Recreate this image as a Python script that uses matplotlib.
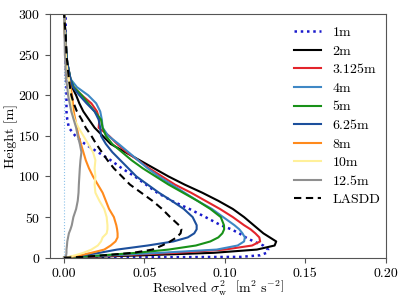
import matplotlib
matplotlib.use("Agg")
import matplotlib.pyplot as plt
from matplotlib.ticker import FormatStrFormatter

plt.rcParams['font.family'] = 'serif'
plt.rcParams['font.serif'] = ['cmr10']
plt.rcParams['mathtext.fontset'] = 'cm'
plt.rcParams['axes.formatter.use_mathtext'] = True
plt.rcParams['font.size'] = 10

heights = [0, 1, 3, 6, 10, 15, 20, 25, 30, 35, 40, 50, 60, 70, 80, 90, 100, 110, 120,
           130, 140, 150, 160, 170, 180, 190, 200, 210, 220, 230, 240, 250, 275, 300]

var_1m = [0, 0.11, 0.122, 0.126, 0.127, 0.124, 0.118, 0.113, 0.109, 0.104, 0.0975, 0.088,
          0.078, 0.067, 0.058, 0.051, 0.044, 0.036, 0.029, 0.021, 0.013, 0.007, 0.003,
          0.002, 0.0015, 0.0015, 0.0015, 0.0015, 0.0012, 0.0012, 0.001, 0.001, 0.001, 0.001]
var_2m = [0, 0.016, 0.05, 0.093, 0.12, 0.131, 0.132, 0.128, 0.124, 0.121, 0.118, 0.112,
          0.105, 0.096, 0.086, 0.075, 0.065, 0.056, 0.047, 0.038, 0.029, 0.024, 0.019,
          0.0155, 0.012, 0.0095, 0.0075, 0.005, 0.003, 0.002, 0.0015, 0.001, 0.0005, 0.0]
var_3125m = [0, 0.012, 0.035, 0.07, 0.1, 0.117, 0.122, 0.1215, 0.119, 0.116, 0.112, 0.105,
             0.097, 0.088, 0.079, 0.069, 0.061, 0.053, 0.046, 0.039, 0.033, 0.028, 0.0215,
             0.022, 0.0205, 0.017, 0.011, 0.006, 0.004, 0.003, 0.002, 0.0015, 0.0008, 0.0]
var_4m = [0, 0.01, 0.03, 0.06, 0.095, 0.108, 0.112, 0.1125, 0.111, 0.109, 0.106, 0.099,
          0.092, 0.083, 0.075, 0.067, 0.059, 0.052, 0.046, 0.040, 0.034, 0.0275, 0.024,
          0.0235, 0.0225, 0.020, 0.015, 0.008, 0.004, 0.003, 0.002, 0.0015, 0.0008, 0.0]
var_5m = [0, 0.008, 0.024, 0.045, 0.065, 0.082, 0.091, 0.096, 0.0985, 0.0996, 0.0995, 0.0975,
          0.091, 0.083, 0.074, 0.065, 0.057, 0.049, 0.042, 0.036, 0.030, 0.026, 0.024,
          0.023, 0.019, 0.015, 0.011, 0.006, 0.004, 0.003, 0.002, 0.0015, 0.0008, 0.0]
var_625m = [0, 0.004, 0.012, 0.022, 0.033, 0.052, 0.068, 0.077, 0.081, 0.0825, 0.0825, 0.080,
            0.0745, 0.067, 0.059, 0.052, 0.045, 0.040, 0.035, 0.030, 0.026, 0.023, 0.0225,
            0.0215, 0.019, 0.014, 0.0095, 0.0055, 0.004, 0.003, 0.002, 0.0015, 0.0008, 0.0]
var_8m = [0, 0.004, 0.01, 0.017, 0.025, 0.029, 0.032, 0.0333, 0.0333, 0.033, 0.0325, 0.031,
          0.028, 0.026, 0.024, 0.021, 0.018, 0.0155, 0.0135, 0.012, 0.0105, 0.009, 0.008,
          0.007, 0.006, 0.0055, 0.005, 0.004, 0.003, 0.002, 0.0015, 0.001, 0.0005, 0.0]
var_10m = [0, 0.003, 0.007, 0.012, 0.017, 0.021, 0.023, 0.024, 0.0265, 0.027, 0.027, 0.0265,
           0.025, 0.022, 0.0195, 0.019, 0.0195, 0.019, 0.0195, 0.018, 0.015, 0.012, 0.009,
           0.0065, 0.005, 0.0045, 0.004, 0.0035, 0.003, 0.002, 0.0015, 0.001, 0.0005, 0.0]
var_125m = [0, 0.001, 0.0013, 0.0015, 0.0015, 0.0018, 0.002, 0.0025, 0.003, 0.004, 0.0048,
            0.0058, 0.0075, 0.0085, 0.009, 0.0092, 0.0095, 0.0098, 0.0102, 0.0108, 0.0098,
            0.0085, 0.0075, 0.006, 0.0045, 0.0035, 0.0025, 0.002, 0.0012, 0.001, 0.0008,
            0.0005, 0.0003, 0.0]
var_lasdd = [0, 0.012, 0.025, 0.043, 0.055, 0.061, 0.066, 0.070, 0.0725, 0.073, 0.0715, 0.066,
             0.061, 0.055, 0.048, 0.041, 0.036, 0.031, 0.027, 0.0235, 0.020, 0.017, 0.0135,
             0.011, 0.008, 0.006, 0.0045, 0.0037, 0.003, 0.0025, 0.002, 0.0015, 0.001, 0.0]

series = [
    ("1m", var_1m, dict(color='#1a1acc', ls=(0, (1, 1.5)), lw=1.8)),
    ("2m", var_2m, dict(color='black', ls='-', lw=1.5)),
    ("3.125m", var_3125m, dict(color='#e3242b', ls='-', lw=1.5)),
    ("4m", var_4m, dict(color='#3f88c5', ls='-', lw=1.5)),
    ("5m", var_5m, dict(color='#189118', ls='-', lw=1.5)),
    ("6.25m", var_625m, dict(color='#1c4f9c', ls='-', lw=1.5)),
    ("8m", var_8m, dict(color='#ff8a1c', ls='-', lw=1.5)),
    ("10m", var_10m, dict(color='#fff09a', ls='-', lw=1.5)),
    ("12.5m", var_125m, dict(color='#8f8f8f', ls='-', lw=1.5)),
    ("LASDD", var_lasdd, dict(color='black', ls=(0, (3.5, 2.2)), lw=1.5)),
]

fig = plt.figure(figsize=(4.07, 3.05), dpi=100)
ax = fig.add_axes([50/407, 1-257.7/305, (385.5-50)/407, (257.7-14)/305])

ax.axvline(0, color='#8cc2ea', ls=':', lw=0.8, zorder=1)
for name, vals, st in series:
    ax.plot(vals, heights, label=name, **st)

ax.set_xlim(-0.00875, 0.20)
ax.set_ylim(0, 300)
ax.set_xticks([0, 0.05, 0.10, 0.15, 0.20])
ax.set_yticks([0, 50, 100, 150, 200, 250, 300])
ax.xaxis.set_major_formatter(FormatStrFormatter('%.2f'))
ax.set_xlabel(r'Resolved $\sigma_\mathrm{w}^2$  $\left[\mathrm{m^2\ s^{-2}}\right]$', labelpad=-1)
ax.set_ylabel('Height [m]', labelpad=0)
for s in ax.spines.values():
    s.set_color('#555555')
ax.tick_params(colors='#555555', labelcolor='black')

ax.legend(loc='upper right', bbox_to_anchor=(1.022, 1.0), frameon=False,
          fontsize=10, labelspacing=0.42)

fig.savefig('out.png', dpi=100)
